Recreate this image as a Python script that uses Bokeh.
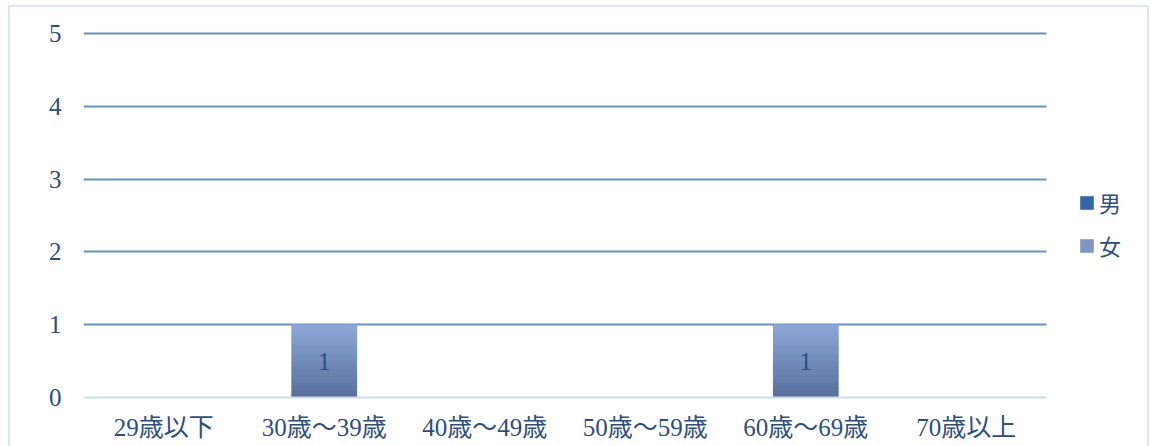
from bokeh.plotting import figure
from bokeh.models import FixedTicker, Legend, LegendItem, ColumnDataSource, Range1d, Grid
from bokeh.core.properties import value
from bokeh.embed import file_html
from bokeh.resources import INLINE

categories = ["29歳以下", "30歳～39歳", "40歳～49歳", "50歳～59歳", "60歳～69歳", "70歳以上"]
male = [0, 0, 0, 0, 0, 0]
female = [0, 1, 0, 0, 1, 0]
series_names = ["男", "女"]
y_ticks = [0, 1, 2, 3, 4, 5]

FONT = "'Liberation Serif', 'Noto Sans CJK JP'"
TEXT_COLOR = "#2E4E80"
BORDER = "#DCE6F4"
GRID = "#6690C6"

pos = list(range(len(categories)))
x_lo, x_hi = -0.5, len(categories) - 0.5

p = figure(x_range=Range1d(x_lo, 6.104), y_range=Range1d(0, 5.0275),
           width=1151, height=446, output_backend="svg", toolbar_location=None,
           min_border_left=83, min_border_right=8, min_border_top=31, min_border_bottom=49)
p.background_fill_color = None
p.border_fill_color = None
p.outline_line_color = None
p.styles = {
    "background-image": ", ".join([f"linear-gradient({BORDER}, {BORDER})"] * 3),
    "background-size": "2px 460px, 1141px 2px, 2px 460px",
    "background-position": "8px 5px, 8px 5px, 1147px 5px",
    "background-repeat": "no-repeat",
}

# horizontal gridlines, limited to the category area
p.xgrid.grid_line_color = None
if "cross_bounds" in Grid.properties():
    p.ygrid.ticker = FixedTicker(ticks=y_ticks[1:])
    p.ygrid.cross_bounds = (x_lo, x_hi)
    p.ygrid.grid_line_color = GRID
    p.ygrid.grid_line_width = 2
else:
    p.ygrid.grid_line_color = None
    gy = y_ticks[1:]
    p.segment(x0=[x_lo] * len(gy), x1=[x_hi] * len(gy), y0=gy, y1=gy,
              line_color=GRID, line_width=2)

src = ColumnDataSource(dict(x=pos, male=male, female=female))
BW = 0.405
r = p.vbar_stack(["male", "female"], x="x", width=BW, source=src,
                 fill_color=["#3366A8", "#8095C3"], line_color=None)

# gradient slices for the 女 bars
N = 40
top_c = (141, 168, 216)
bot_c = (88, 111, 157)
xs, bots, tops, cols = [], [], [], []
for xp, m, f in zip(pos, male, female):
    if f <= 0:
        continue
    for i in range(N):
        t = i / (N - 1)
        col = tuple(int(round(bot_c[k] + (top_c[k] - bot_c[k]) * t)) for k in range(3))
        xs.append(xp)
        bots.append(m + f * i / N)
        tops.append(m + f * (i + 1) / N)
        cols.append("#%02x%02x%02x" % col)
p.vbar(x=xs, bottom=bots, top=tops, width=BW, fill_color=cols, line_color=cols, line_width=0.5)

# data labels
lx = [xp for xp, f in zip(pos, female) if f > 0]
ly = [m + f / 2 for m, f in zip(male, female) if f > 0]
lt = [str(f) for f in female if f > 0]
p.text(x=lx, y=ly, text=lt, text_align="center", text_baseline="middle",
       text_font=value(FONT), text_font_size="25px", text_color=TEXT_COLOR)

legend = Legend(items=[LegendItem(label=series_names[0], renderers=[r[0]]),
                       LegendItem(label=series_names[1], renderers=[r[1]])],
                location=(995, 136), orientation="vertical")
legend.background_fill_color = None
legend.border_line_color = None
legend.padding = 0
legend.margin = 0
legend.spacing = 11
legend.glyph_width = 17
legend.glyph_height = 17
legend.label_standoff = 4
legend.label_text_font = FONT
legend.label_text_font_size = "22px"
legend.label_text_color = TEXT_COLOR
p.add_layout(legend, "center")

p.yaxis.ticker = FixedTicker(ticks=y_ticks)
p.yaxis.axis_line_color = None
p.yaxis.major_tick_line_color = None
p.yaxis.minor_tick_line_color = None
p.yaxis.major_label_standoff = 16
p.yaxis.major_label_text_font = FONT
p.yaxis.major_label_text_font_size = "25px"
p.yaxis.major_label_text_color = TEXT_COLOR

p.xaxis.ticker = FixedTicker(ticks=pos)
p.xaxis.major_label_overrides = {xp: c for xp, c in zip(pos, categories)}
p.xaxis.bounds = (x_lo, x_hi)
p.xaxis.axis_line_color = "#CCDCF0"
p.xaxis.axis_line_width = 2
p.xaxis.major_tick_line_color = None
p.xaxis.minor_tick_line_color = None
p.xaxis.major_label_standoff = 10
p.xaxis.major_label_text_font = FONT
p.xaxis.major_label_text_font_size = "25px"
p.xaxis.major_label_text_color = TEXT_COLOR

open("out.html", "w").write(file_html(p, INLINE))
